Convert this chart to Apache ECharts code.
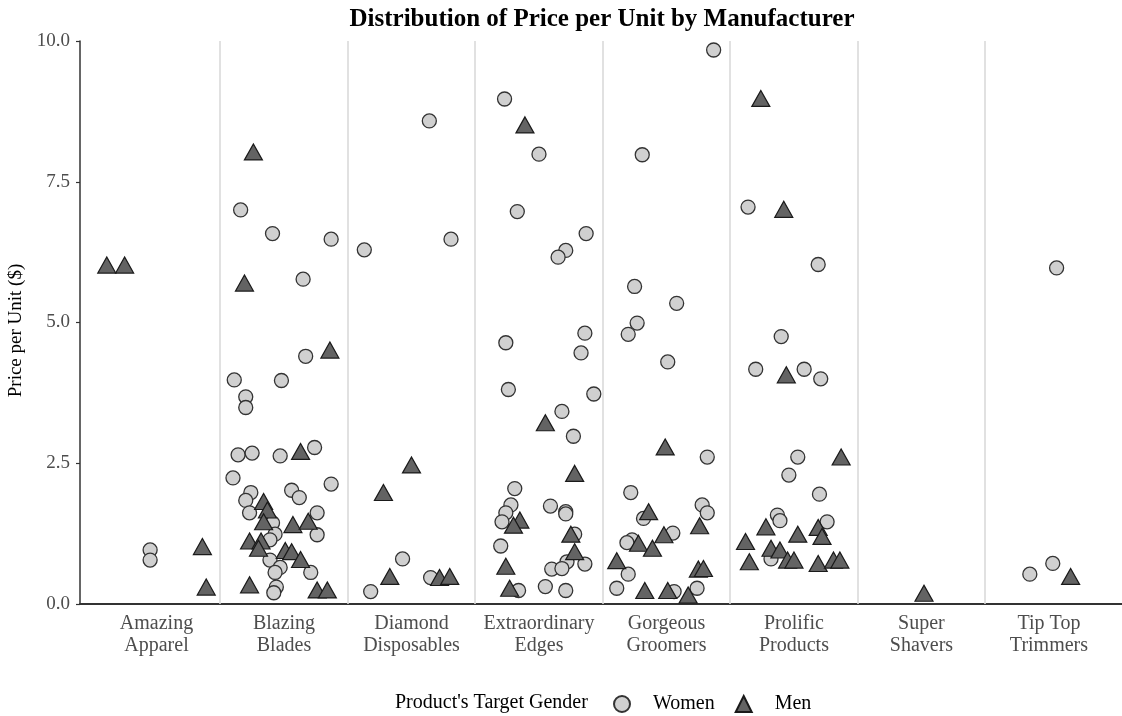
<!DOCTYPE html>
<html>
<head>
<meta charset="utf-8">
<script src="https://cdn.jsdelivr.net/npm/echarts@6/dist/echarts.min.js"></script>
<style>html,body{margin:0;padding:0;background:#fff;}#c{width:1122px;height:716px;}</style>
</head>
<body>
<div id="c"></div>
<script>
var categories = ['Amazing\nApparel','Blazing\nBlades','Diamond\nDisposables','Extraordinary\nEdges','Gorgeous\nGroomers','Prolific\nProducts','Super\nShavers','Tip Top\nTrimmers'];
var yTicks = [0, 2.5, 5, 7.5, 10];
// [jittered position on manufacturer scale (1..8), price per unit]
var women = [
  [0.95,0.96],[0.95,0.78],
  [1.66,7.0],[1.91,6.58],[2.37,6.48],[2.15,5.77],[2.17,4.40],[1.61,3.98],[1.98,3.97],[1.70,3.68],[1.70,3.49],[1.64,2.65],[1.75,2.68],[1.97,2.63],[2.24,2.78],[1.60,2.24],[2.37,2.13],[2.06,2.02],[2.12,1.89],[1.74,1.98],[1.70,1.84],[1.73,1.62],[2.26,1.62],[1.91,1.44],[2.26,1.23],[1.93,1.24],[1.89,1.14],[1.89,0.78],[1.97,0.65],[1.93,0.56],[2.21,0.56],[1.94,0.30],[1.92,0.20],
  [3.14,8.58],[2.63,6.29],[3.31,6.48],[2.93,0.80],[3.15,0.47],[2.68,0.22],
  [3.73,8.97],[4.00,7.99],[3.83,6.97],[4.37,6.58],[4.21,6.28],[4.15,6.16],[4.36,4.81],[3.74,4.64],[4.33,4.46],[3.76,3.81],[4.43,3.73],[4.18,3.42],[4.27,2.98],[3.81,2.05],[3.78,1.76],[4.09,1.74],[3.74,1.62],[4.21,1.64],[4.21,1.60],[3.71,1.46],[4.28,1.24],[3.70,1.03],[4.22,0.75],[4.36,0.71],[4.10,0.62],[4.18,0.63],[3.84,0.24],[4.05,0.31],[4.21,0.24],
  [5.37,9.84],[4.81,7.98],[4.75,5.64],[5.08,5.34],[4.77,4.99],[4.70,4.79],[5.01,4.30],[5.32,2.61],[4.72,1.98],[5.28,1.76],[5.32,1.62],[4.82,1.52],[5.05,1.26],[4.73,1.14],[4.69,1.09],[4.70,0.53],[4.61,0.28],[5.06,0.22],[5.24,0.28],
  [5.64,7.05],[6.19,6.03],[5.90,4.75],[5.70,4.17],[6.08,4.17],[6.21,4.00],[6.03,2.61],[5.96,2.29],[6.20,1.95],[5.87,1.58],[5.89,1.48],[6.26,1.46],[5.82,0.80],
  [8.06,5.97],[7.85,0.53],[8.03,0.72]
];
var men = [
  [0.61,6.02],[0.75,6.02],[1.36,1.02],[1.39,0.30],
  [1.76,8.03],[1.69,5.70],[2.36,4.51],[2.13,2.71],[1.84,1.82],[1.87,1.67],[1.84,1.46],[2.07,1.41],[2.19,1.47],[1.73,1.12],[1.82,1.12],[1.80,0.99],[2.01,0.95],[2.06,0.93],[2.13,0.79],[1.73,0.34],[2.26,0.25],[2.34,0.25],
  [3.00,2.47],[2.78,1.98],[2.83,0.49],[3.22,0.47],[3.30,0.49],
  [3.89,8.51],[4.05,3.22],[4.28,2.32],[3.85,1.49],[3.80,1.40],[4.25,1.24],[4.28,0.93],[3.74,0.67],[3.77,0.28],
  [4.99,2.79],[4.86,1.64],[5.26,1.39],[4.98,1.23],[4.78,1.08],[4.89,0.99],[4.61,0.77],[5.25,0.62],[5.29,0.63],[4.83,0.24],[5.01,0.24],[5.17,0.16],
  [5.74,8.98],[5.92,7.01],[5.94,4.07],[6.37,2.61],[5.78,1.37],[6.19,1.36],[6.03,1.24],[6.22,1.20],[5.62,1.11],[5.82,0.99],[5.89,0.96],[5.65,0.75],[5.95,0.78],[6.00,0.78],[6.19,0.72],[6.31,0.78],[6.36,0.78],
  [7.02,0.19],
  [8.17,0.49]
];

var FONT = '"Liberation Serif", "DejaVu Serif", serif';
var catPositions = categories.map(function(c, i){ return i + 1; });
var boundaries = categories.slice(1).map(function(c, i){ return i + 1.5; });

var chart = echarts.init(document.getElementById('c'));
chart.setOption({
  animation: false,
  backgroundColor: '#ffffff',
  title: {
    text: 'Distribution of Price per Unit by Manufacturer',
    left: 597, top: 2, textAlign: 'center',
    textStyle: { fontFamily: FONT, fontSize: 25, fontWeight: 'bold', color: '#000' }
  },
  grid: { left: 80, top: 41, right: 0, bottom: 112, containLabel: false, outerBoundsMode: 'none' },
  xAxis: {
    type: 'value', min: 0.4, max: 8.573,
    axisLine: { show: true, lineStyle: { color: '#333', width: 2 } },
    axisTick: { show: false },
    splitLine: { show: false },
    axisLabel: {
      customValues: catPositions,
      formatter: function(v){ return categories[Math.round(v) - 1] || ''; },
      fontFamily: FONT, fontSize: 20, color: '#4d4d4d', lineHeight: 22, margin: 9
    }
  },
  yAxis: {
    type: 'value', min: 0, max: 10, interval: 2.5,
    name: 'Price per Unit ($)', nameLocation: 'middle', nameRotate: 90, nameGap: 52,
    nameTextStyle: { fontFamily: FONT, fontSize: 19, color: '#000', padding: [0, 16, 0, 0] },
    axisLine: { show: true, lineStyle: { color: '#333', width: 1.5 } },
    axisTick: { show: true, length: 4, lineStyle: { color: '#333', width: 1.2 } },
    splitLine: { show: false },
    axisLabel: {
      formatter: function(v){ return v.toFixed(1); },
      fontFamily: FONT, fontSize: 19, color: '#4d4d4d', margin: 10
    }
  },
  legend: {
    data: ['Women', 'Men'],
    left: 613, top: 694, padding: 0,
    itemWidth: 16, itemHeight: 16, itemGap: 20,
    textStyle: { fontFamily: FONT, fontSize: 20, color: '#000', padding: [0, 0, 0, 18] }
  },
  graphic: [{
    type: 'text', left: 395, top: 693,
    style: { text: "Product's Target Gender", font: '20px ' + FONT, fill: '#000' }
  }],
  series: [
    {
      name: 'sep', type: 'scatter', data: [], z: 1, silent: true,
      markLine: {
        silent: true, symbol: 'none', label: { show: false },
        lineStyle: { color: '#dadada', width: 1.6, type: 'solid' },
        data: boundaries.map(function(b){ return { xAxis: b }; })
      }
    },
    {
      name: 'Women', type: 'scatter', data: women, z: 3,
      symbol: 'circle', symbolSize: 14,
      itemStyle: { color: '#d0d0d0', borderColor: '#333', borderWidth: 1.3, opacity: 1 }
    },
    {
      name: 'Men', type: 'scatter', data: men, z: 4,
      symbol: 'triangle', symbolSize: [18, 16],
      itemStyle: { color: '#636363', borderColor: '#1a1a1a', borderWidth: 1.2, opacity: 1 }
    }
  ]
});
</script>
</body>
</html>
